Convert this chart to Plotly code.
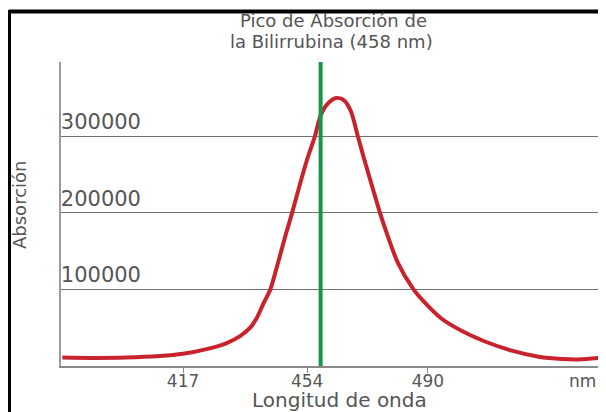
import plotly.graph_objects as go

# ---- data ----
wavelength = [381, 390, 400, 410, 417, 424, 430, 434, 437, 439, 441, 443, 445,
              447.5, 449.5, 452, 454, 456.3, 458, 460, 462.6, 465, 467, 469.1,
              471, 473, 475.7, 478, 481, 485.7, 489, 494, 500, 507, 515, 523,
              530, 535, 541]
absorption = [11000, 10500, 11000, 13000, 16000, 22000, 30000, 39000, 50000,
              63000, 82000, 100000, 130000, 170000, 200000, 240000, 270000,
              300000, 327000, 342000, 350000, 347000, 333000, 300000, 270000,
              240000, 200000, 170000, 135000, 100000, 83000, 62000, 46000,
              32000, 20000, 12000, 9000, 8500, 10500]
peak_nm = 458
x_tickvals = [417, 454, 490]
x_ticktext = ["417", "454", "490"]
y_tickvals = [100000, 200000, 300000]
y_ticktext = ["100000", "200000", "300000"]
x_range = [380.6, 540.7]
y_range = [0, 397000]

FONT = "DejaVu Sans"
TXT = "#555555"

# page keeps its default 8px body margin, so the figure is 8px smaller
fig = go.Figure()
fig.add_trace(go.Scatter(
    x=wavelength, y=absorption, mode="lines",
    line=dict(color="#c8232c", width=4, shape="spline", smoothing=0.8),
    hoverinfo="skip", showlegend=False))
fig.add_trace(go.Scatter(
    x=[peak_nm, peak_nm], y=[y_range[0], y_range[1]], mode="lines",
    line=dict(color="#17964a", width=4),
    hoverinfo="skip", showlegend=False))

fig.update_layout(
    width=598, height=404,
    margin=dict(l=53, r=8, t=54, b=46),
    paper_bgcolor="white", plot_bgcolor="white",
    font=dict(family=FONT, color=TXT),
    xaxis=dict(range=x_range, tickvals=x_tickvals, ticktext=x_ticktext,
               showgrid=False, zeroline=False, showline=True,
               linecolor="#8a8a8a", linewidth=2,
               ticks="outside", ticklen=5, tickcolor="#8a8a8a", tickwidth=1,
               ticklabelstandoff=-6,
               tickfont=dict(size=17, color=TXT, family=FONT)),
    yaxis=dict(range=y_range, tickvals=y_tickvals, ticktext=y_ticktext,
               showgrid=True, gridcolor="#707070", gridwidth=1,
               zeroline=False, showline=True, linecolor="#9a9a9a", linewidth=2,
               ticks="", ticklabelposition="inside top",
               tickfont=dict(size=21, color=TXT, family=FONT)),
)

# positions below are page pixels converted to plot-area (paper) fractions
PX0, PY0, PW, PH = 61, 366, 537, 304


def px(x):
    return (x - PX0) / PW


def py(y):
    return (PY0 - y) / PH


ann = [
    dict(text="Pico de Absorción de", x=px(333), y=py(21)),
    dict(text="la Bilirrubina (458 nm)", x=px(331), y=py(41)),
]
for a in ann:
    fig.add_annotation(xref="paper", yref="paper", showarrow=False,
                       xanchor="center", yanchor="middle",
                       font=dict(size=18, color=TXT, family=FONT), **a)

fig.add_annotation(text="Longitud de onda", xref="paper", yref="paper",
                   x=px(339), y=py(400),
                   xanchor="center", yanchor="middle", showarrow=False,
                   font=dict(size=20, color=TXT, family=FONT))
fig.add_annotation(text="Absorción", xref="paper", yref="paper",
                   x=px(19), y=py(205), textangle=-90,
                   xanchor="center", yanchor="middle", showarrow=False,
                   font=dict(size=18, color=TXT, family=FONT))
fig.add_annotation(text="nm", xref="paper", yref="paper",
                   x=1.0, y=py(381),
                   xanchor="right", yanchor="middle", showarrow=False,
                   font=dict(size=17, color=TXT, family=FONT))

# black frame on top and left edges
fig.add_shape(type="line", xref="paper", yref="paper", layer="above",
              x0=px(9), x1=px(620), y0=py(11.5), y1=py(11.5),
              line=dict(color="black", width=4))
fig.add_shape(type="line", xref="paper", yref="paper", layer="above",
              x0=px(9.5), x1=px(9.5), y0=py(10), y1=py(430),
              line=dict(color="black", width=3))

fig.write_html("out.html", config={"displayModeBar": False},
               post_script="document.body.style.overflow='hidden';")
